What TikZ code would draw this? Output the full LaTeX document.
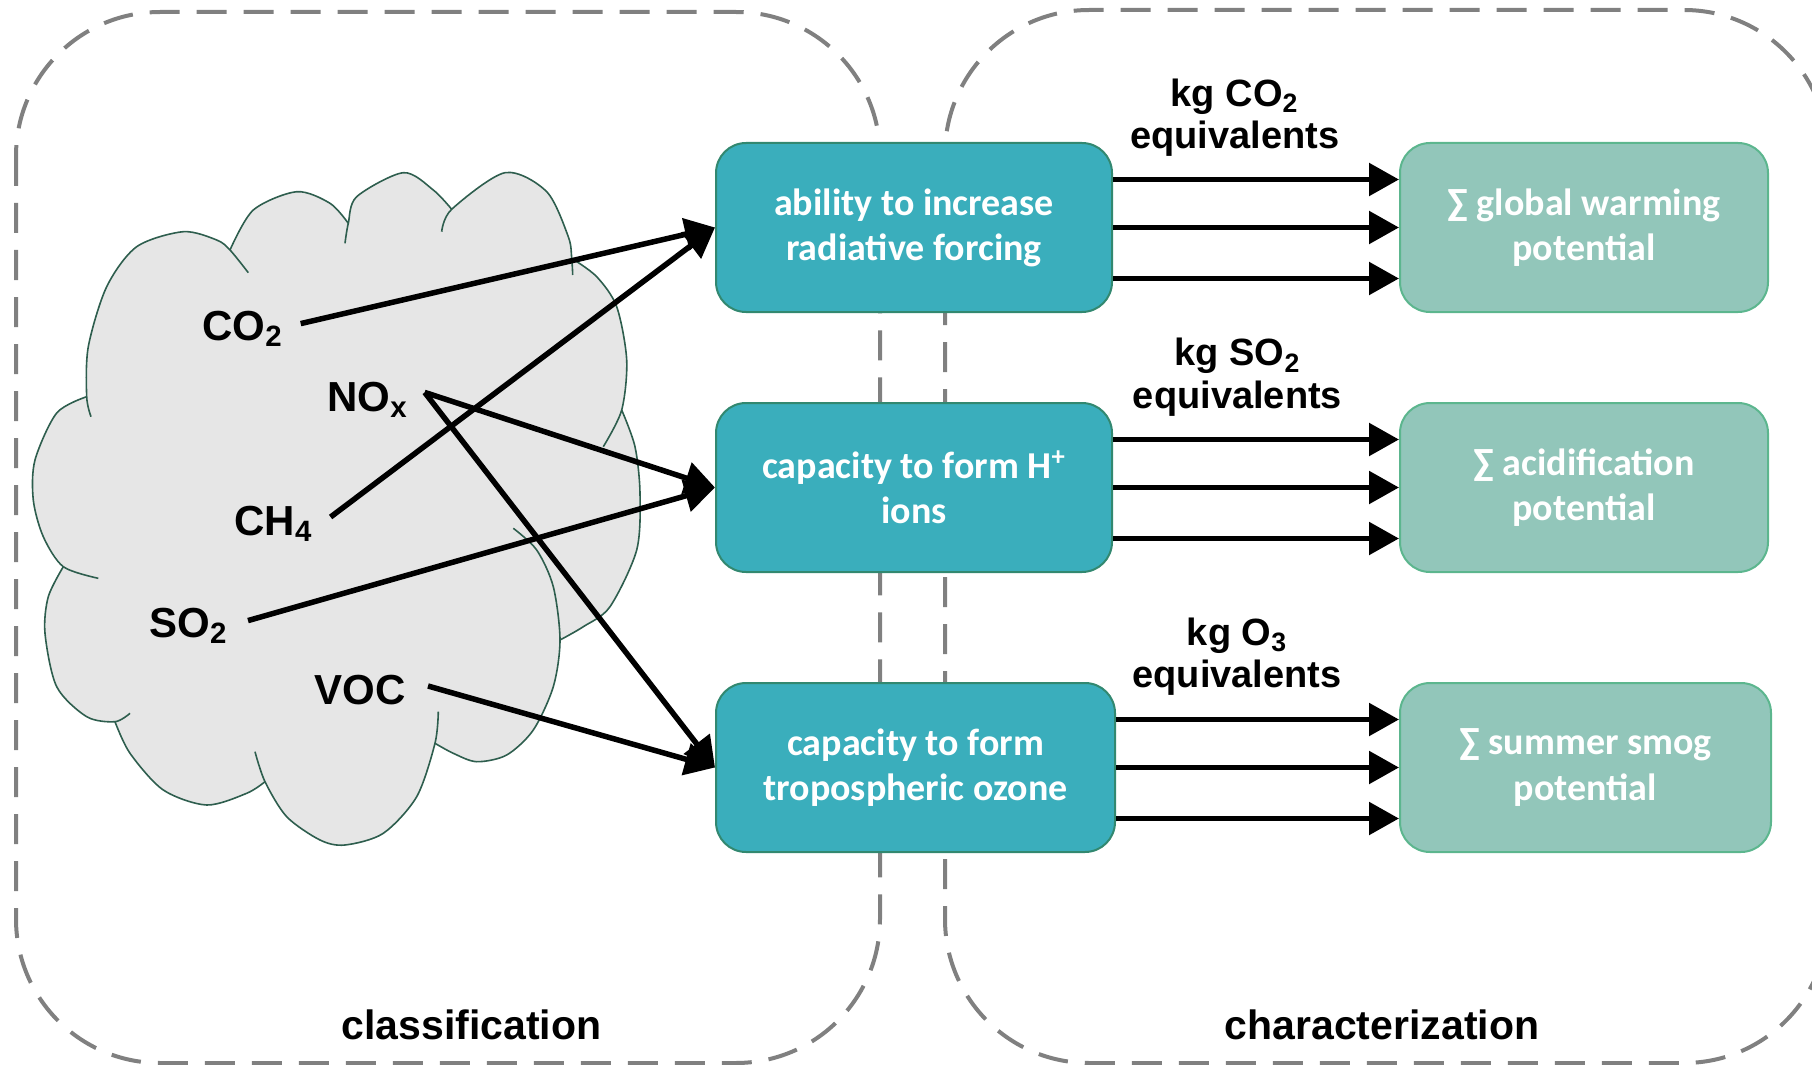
\documentclass[tikz,border=0pt]{standalone}
\usepackage{fontspec}
\usetikzlibrary{arrows.meta,calc}
\newfontfamily\labfont{Liberation Sans}
\newfontfamily\boxfont{Carlito}
\definecolor{frame}{RGB}{128,128,128}
\definecolor{cloudfill}{RGB}{230,230,230}
\definecolor{cloudline}{RGB}{46,94,78}
\definecolor{tealfill}{RGB}{58,174,188}
\definecolor{tealline}{RGB}{50,136,112}
\definecolor{mintfill}{RGB}{146,198,186}
\definecolor{mintline}{RGB}{92,182,142}
\begin{document}
\begin{tikzpicture}[x=0.5pt,y=-0.5pt,
  phase/.style={draw=frame, line width=2pt, dash pattern=on 15pt off 8.5pt, rounded corners=72pt},
  puff/.style={draw=cloudline, line width=0.8pt},
  gas/.style={font=\labfont\bfseries\fontsize{21pt}{25pt}\selectfont, anchor=base west, inner sep=0pt},
  unit/.style={font=\labfont\bfseries\fontsize{19pt}{21.3pt}\selectfont, align=center, inner sep=0pt},
  phaselabel/.style={font=\labfont\bfseries\fontsize{20.5pt}{24pt}\selectfont, anchor=base, inner sep=0pt},
  category/.style={draw=tealline, fill=tealfill, line width=1pt, rounded corners=15pt,
    minimum width=198pt, minimum height=84.5pt, inner sep=0pt, align=center, text=white,
    font=\boxfont\bfseries\fontsize{19pt}{22.6pt}\selectfont},
  total/.style={category, draw=mintline, fill=mintfill, minimum width=184pt},
  flow/.style={line width=2.75pt, -{Triangle[length=15pt,width=16pt]}},
]
\useasboundingbox (0,0) rectangle (1812,1065);

% phase frames
\draw[phase] (16,12) rectangle (880,1063);
\draw[phase] (945,10) rectangle (1828,1063);

% cloud body
\fill[cloudfill]
  plot[smooth] coordinates {(86.7,396.7) (88.3,346.7) (106.7,286.7) (136.7,246.7) (183.3,231.7) (216.7,240) (230,250)}
  -- plot[smooth] coordinates {(230,250) (253.3,210) (296.7,191.7) (330,203.3) (348.3,223.3)}
  -- plot[smooth] coordinates {(348.3,223.3) (356.7,196.7) (403.3,172.7) (433.3,190) (451.7,209.3)}
  -- plot[smooth] coordinates {(451.7,209.3) (505,172.7) (546.7,191.7) (568.3,236.7) (571.7,258.3)}
  -- plot[smooth] coordinates {(571.7,258.3) (596.7,276.7) (616.7,306.7) (626.7,360) (621.7,410)}
  -- plot[smooth] coordinates {(621.7,410) (635,446.7) (640,493.3) (636.7,550) (610,606.7) (583.3,626.7) (560,640)}
  -- plot[smooth] coordinates {(560,640) (553.3,686.7) (533.3,730) (506.7,755) (476.7,761.7) (453.3,753.3) (435,743.3)}
  -- plot[smooth] coordinates {(435,743.3) (416.7,796.7) (383.3,833.3) (345,845) (320,840) (286.7,816.7) (265,781.7)}
  -- plot[smooth] coordinates {(265,781.7) (246.7,793.3) (206.7,805) (163.3,790) (130,753.3) (115,721.7)}
  -- plot[smooth] coordinates {(115,721.7) (86.7,716.7) (56.7,686.7) (45,633.3) (48.3,596.7) (63.3,566.7)}
  -- plot[smooth] coordinates {(63.3,566.7) (43.3,536.7) (33.3,500) (35,460) (56.7,413) (86.7,396.7)}
  -- cycle;

% cloud puffs
\draw[puff] plot[smooth] coordinates {(91,416.7) (86.7,396.7) (88.3,346.7) (106.7,286.7) (136.7,246.7) (183.3,231.7) (216.7,240) (230,250) (248.3,272.7)};
\draw[puff] plot[smooth] coordinates {(230,250) (253.3,210) (296.7,191.7) (330,203.3) (348.3,223.3)};
\draw[puff] plot[smooth] coordinates {(345,243.3) (348.3,223.3) (356.7,196.7) (403.3,172.7) (433.3,190) (451.7,209.3)};
\draw[puff] plot[smooth] coordinates {(441.7,231.7) (451.7,209.3) (505,172.7) (546.7,191.7) (568.3,236.7) (571.7,258.3) (572.7,275)};
\draw[puff] plot[smooth] coordinates {(571.7,258.3) (596.7,276.7) (616.7,306.7) (626.7,360) (621.7,410) (603.3,446.7)};
\draw[puff] plot[smooth] coordinates {(621.7,410) (635,446.7) (640,493.3) (636.7,550) (610,606.7) (583.3,626.7) (560,640)};
\draw[puff] plot[smooth] coordinates {(513.3,528.3) (536.7,550) (553.3,586.7) (560,640) (553.3,686.7) (533.3,730) (506.7,755) (476.7,761.7) (453.3,753.3) (435,743.3)};
\draw[puff] plot[smooth] coordinates {(438.3,711.7) (435,743.3) (416.7,796.7) (383.3,833.3) (345,845) (320,840) (286.7,816.7) (265,781.7) (255,751.7)};
\draw[puff] plot[smooth] coordinates {(265,781.7) (246.7,793.3) (206.7,805) (163.3,790) (130,753.3) (115,721.7)};
\draw[puff] plot[smooth] coordinates {(130,713.3) (115,721.7) (86.7,716.7) (56.7,686.7) (45,633.3) (48.3,596.7) (63.3,566.7)};
\draw[puff] plot[smooth] coordinates {(98.3,578.3) (63.3,566.7) (43.3,536.7) (33.3,500) (35,460) (56.7,413) (86.7,396.7)};

% emissions
\node[gas] (co2) at (202,340) {CO\textsubscript{2}};
\node[gas] (nox) at (327,411.7) {NO\textsubscript{x}};
\node[gas] (ch4) at (234,535) {CH\textsubscript{4}};
\node[gas] (so2) at (149,637) {SO\textsubscript{2}};
\node[gas] (voc) at (314.5,704) {VOC};
\coordinate (co2s) at (300.7,323.6);
\coordinate (ch4s) at (330.6,517);
\coordinate (noxs) at (424.7,392.4);
\coordinate (so2s) at (248,620.6);
\coordinate (vocs) at (428,686);

% impact categories
\node[category] (b1) at (914,227.5) {ability to increase\\radiative forcing};
\node[category] (b2) at (914,487.5) {capacity to form H\textsuperscript{+}\\ions};
\node[category, minimum width=199.5pt] (b3) at (915.5,767.5) {capacity to form\\tropospheric ozone};
\node[total] (r1) at (1584,227.5) {∑ global warming\\potential};
\node[total] (r2) at (1584,487.5) {∑ acidification\\potential};
\node[total, minimum width=185.5pt] (r3) at (1585.5,767.5) {∑ summer smog\\potential};

% classification arrows
\draw[flow] (co2s) -- (b1.west);
\draw[flow] (ch4s) -- (b1.west);
\draw[flow] (noxs) -- (b2.west);
\draw[flow] (noxs) -- (b3.west);
\draw[flow] (so2s) -- (b2.west);
\draw[flow] (vocs) -- (b3.west);

% characterization arrows
\foreach \s/\t in {b1/r1,b2/r2,b3/r3}
  \foreach \dy in {-48,0,51}
    \draw[flow] ($(\s.east)+(0,\dy)$) -- ($(\t.west)+(0,\dy)$);

% units
\node[unit] (u1) at (1234.6,117.5) {kg CO\textsubscript{2}\\equivalents};
\node[unit] (u2) at (1237.5,377) {kg SO\textsubscript{2}\\equivalents};
\node[unit] (u3) at (1237,656.5) {kg O\textsubscript{3}\\equivalents};

% phase names
\node[phaselabel] (cl) at (471.5,1039) {classification};
\node[phaselabel] (ch) at (1382,1039) {characterization};
\end{tikzpicture}
\end{document}
